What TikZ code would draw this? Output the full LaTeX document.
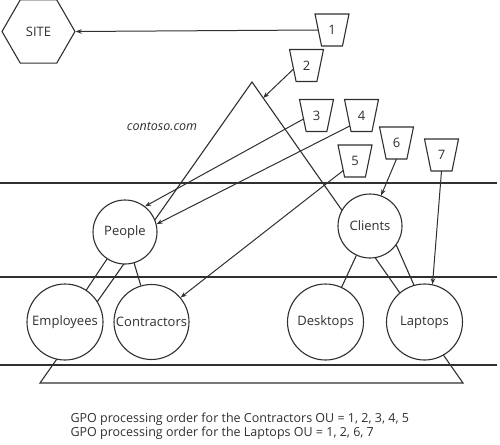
\documentclass[tikz,border=0pt]{standalone}
\usepackage{fontspec}
\setmainfont{Open Sans}
\usetikzlibrary{shapes.geometric,arrows.meta,calc}
\definecolor{ink}{HTML}{303030}

\begin{document}
\begin{tikzpicture}[x=1pt,y=-1pt,color=ink,line width=1.1pt,
    ou/.style={circle,draw,fill=white,inner sep=0pt,font=\fontsize{13}{15}\selectfont},
    gpo/.style={trapezium,trapezium left angle=76,trapezium right angle=76,
        shape border rotate=180,trapezium stretches=true,
        minimum width=34pt,minimum height=32pt,inner sep=0pt,outer sep=0pt,
        draw,fill=white,font=\fontsize{13}{15}\selectfont},
    link/.style={-{Stealth[length=6pt,width=4.5pt]},line width=1pt}]
                \useasboundingbox (0,0) rectangle (500,444);

                \draw (0,183) -- (497,183);
                \draw (0,277) -- (497,277);
                \draw (0,365) -- (497,365);

                \coordinate (apex) at (252,82);
                \coordinate (baseL) at (40,383);
                \coordinate (baseR) at (463,383);
                \draw (apex) -- (baseL) -- (baseR) -- cycle;
                \coordinate (hit2) at ($(apex)!0.053!(baseR)$);

                \node[draw,regular polygon,regular polygon sides=6,minimum size=73pt,
                    inner sep=0pt,font=\fontsize{13}{15}\selectfont] (site) at (38.5,31.5) {SITE};
                \node[font=\fontsize{12.5}{15}\selectfont\itshape] (domain) at (162,126) {contoso.com};

                \node[gpo] (t1) at (332,30) {1};
                \node[gpo] (t2) at (306.5,65.5) {2};
                \node[gpo] (t3) at (316.5,115.5) {3};
                \node[gpo] (t4) at (361.5,115.5) {4};
                \node[gpo] (t5) at (355,161) {5};
                \node[gpo] (t6) at (396.5,143) {6};
                \node[gpo] (t7) at (441.5,155) {7};

                \node[ou,minimum size=64pt] (people) at (125,232) {People};
                \node[ou,minimum size=64pt] (clients) at (370,226) {Clients};
                \node[ou,minimum size=76pt] (employees) at (65,322) {Employees};
                \node[ou,minimum size=75pt] (contractors) at (151.5,322) {Contractors};
                \node[ou,minimum size=76pt] (desktops) at (325.5,322) {Desktops};
                \node[ou,minimum size=76pt] (laptops) at (424.5,322) {Laptops};

                \draw (people) -- (employees);
                \draw (people) -- (contractors);
                \draw (clients) -- (desktops);
                \draw (clients.-36) -- (laptops.106);

                \draw[link] (t1.180) -- (site.east);
                \draw[link] (t2.195) -- (hit2);
                \draw[link] (t3.195) -- (people.52);
                \draw[link] (t4.222) -- (people.14);
                \draw[link] (t5.219) -- (contractors.40);
                \draw[link] (t6.270) -- (clients.70);
                \draw[link] (t7.270) -- (laptops.78);

                \node[anchor=west,align=left,inner sep=0pt,font=\fontsize{12.5}{12.5}\selectfont] (order) at (70,426)
                    {GPO processing order for the Contractors OU = 1, 2, 3, 4, 5\\
                     GPO processing order for the Laptops OU = 1, 2, 6, 7};
            \end{tikzpicture}
\end{document}
